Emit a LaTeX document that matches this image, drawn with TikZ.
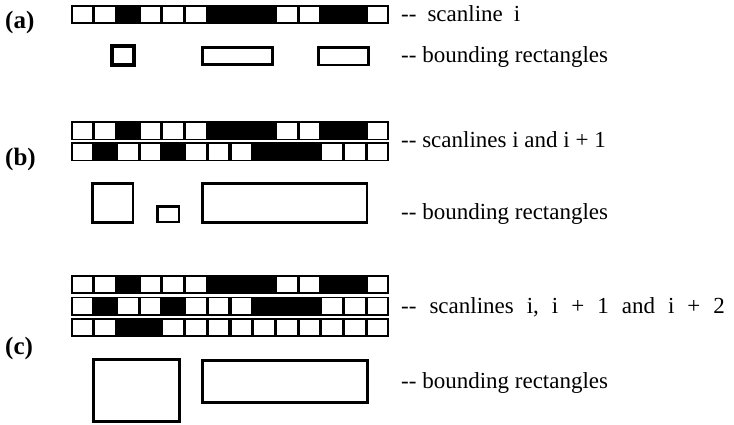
\documentclass[tikz,border=0pt]{standalone}
\usepackage{fontspec}
\setmainfont{Liberation Serif}
\begin{document}
\begin{tikzpicture}[x=1pt,y=-1pt,
  caption/.style={anchor=base west,inner sep=0pt,font=\fontsize{23}{27}\selectfont},
  tag/.style={anchor=base west,inner sep=0pt,font=\fontsize{25}{29}\selectfont\bfseries},
  bbox/.style={draw=black,line width=2.4pt},
  bboxthick/.style={draw=black,line width=4pt}]
\useasboundingbox (0,0) rectangle (734,425);

% one scanline: black strip of 14 cells, the cells marked 0 are left white
\newcommand\scanrow[2]{%
  \fill[black] (71,#1) rectangle (389,#1+19);
  \foreach \c [count=\k from 0] in {#2} {%
    \ifnum\c=0
      \fill[white] ({71+22.714*\k+1.6},#1+1.9) rectangle ({71+22.714*(\k+1)-1.6},#1+17.1);
    \fi}}

% (a) one scanline
\scanrow{5}{0,0,1,0,0,0,1,1,1,0,0,1,1,0}
\draw[bboxthick] (111.5,46.5) rectangle (133.5,65.5);
\draw[bbox] (202.5,47.5) rectangle (272.5,64.5);
\draw[bbox] (318.5,47.5) rectangle (368.5,65);

% (b) two scanlines
\scanrow{121.5}{0,0,1,0,0,0,1,1,1,0,0,1,1,0}
\scanrow{142.5}{0,1,0,0,1,0,0,0,1,1,1,0,0,0}
\draw[bbox] (92.5,183.5) rectangle (133,222.5);
\draw[bbox] (157.5,206.5) rectangle (179,222);
\draw[bbox] (202.5,183.5) rectangle (367,222.5);

% (c) three scanlines
\scanrow{275}{0,0,1,0,0,0,1,1,1,0,0,1,1,0}
\scanrow{296.5}{0,1,0,0,1,0,0,0,1,1,1,0,0,0}
\scanrow{318}{0,0,1,1,0,0,0,0,0,0,0,0,0,0}
\draw[bbox] (93.5,359.5) rectangle (179.5,421.5);
\draw[bbox] (202.5,360.5) rectangle (367.5,402.5);

% labels
\node[tag] (la) at (5,29) {(a)};
\node[tag] (lb) at (5,166) {(b)};
\node[tag] (lc) at (5,354) {(c)};

\node[caption] (ta1) at (401,22) {\spaceskip=11pt -{}- scanline i};
\node[caption] (ta2) at (401,63) {-{}- bounding rectangles};
\node[caption] (tb1) at (401,148) {-{}- scanlines i and i + 1};
\node[caption] (tb2) at (401,219) {-{}- bounding rectangles};
\node[caption] (tc1) at (401,313) {\spaceskip=13pt -{}- scanlines i, i + 1 and i + 2};
\node[caption] (tc2) at (401,388) {-{}- bounding rectangles};
\end{tikzpicture}
\end{document}
